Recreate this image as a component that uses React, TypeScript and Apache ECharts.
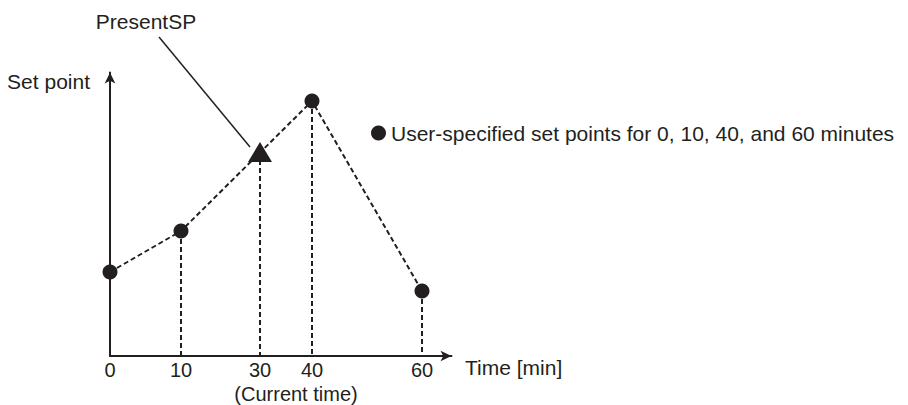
import React, { useEffect, useRef } from "react";
import * as echarts from "echarts";

// Schematic axis: positions along the time axis and the tick labels shown there
const axisPositions = [0, 71, 150, 202, 312];
const timeLabels = ["0", "10", "30", "40", "60"];

// User-specified set points (0, 10, 40, 60 minutes)
const setPointPositions = [0, 71, 202, 312];
const setPointValues = [84, 125, 255, 65];

// Present set point (current time = 30 min)
const presentPosition = [150];
const presentValue = [204];

const INK = "#231f20";
const FONT = "'Liberation Sans', Arial, Helvetica, sans-serif";
const LEGEND_NAME = "User-specified set points for 0, 10, 40, and 60 minutes";

export default function App() {
  const ref = useRef<HTMLDivElement>(null);

  useEffect(() => {
    if (!ref.current) return;
    const chart = echarts.init(ref.current, undefined, { renderer: "svg" });

    const dashed = { type: [5, 3] as any, width: 2, color: INK };
    const setData = setPointPositions.map((x, i) => [x, setPointValues[i]]);
    const presentData = presentPosition.map((x, i) => [x, presentValue[i]]);
    const dropLines = (data: number[][]) =>
      data.filter((d) => d[0] > 0).map((d) => [{ coord: [d[0], d[1]] }, { coord: [d[0], 0] }]);

    chart.setOption({
      animation: false,
      grid: { left: 110, right: 456.5, top: 72.5, bottom: 49 },
      legend: {
        data: [LEGEND_NAME],
        left: 366,
        top: 117.5,
        icon: "circle",
        itemWidth: 15,
        itemHeight: 15,
        selectedMode: false,
        textStyle: { fontSize: 21, color: INK, fontFamily: FONT },
      },
      xAxis: {
        type: "value",
        min: 0,
        max: 341.5,
        splitLine: { show: false },
        axisTick: { show: false },
        axisLine: {
          show: true,
          onZero: false,
          lineStyle: { color: INK, width: 2 },
          symbol: ["none", "arrow"],
          symbolSize: [8, 11],
        },
        axisLabel: {
          customValues: axisPositions,
          formatter: (v: number) => {
            const i = axisPositions.indexOf(v);
            return i >= 0 ? timeLabels[i] : "";
          },
          margin: 5.5,
          fontSize: 20,
          lineHeight: 17,
          color: INK,
          fontFamily: FONT,
        },
      },
      yAxis: {
        type: "value",
        min: 0,
        max: 283.5,
        splitLine: { show: false },
        axisTick: { show: false },
        axisLabel: { show: false },
        axisLine: {
          show: true,
          onZero: false,
          lineStyle: { color: INK, width: 2 },
          symbol: ["none", "arrow"],
          symbolSize: [8, 11],
        },
      },
      series: [
        {
          name: LEGEND_NAME,
          type: "line",
          data: setData,
          symbol: "circle",
          symbolSize: 15,
          showSymbol: true,
          itemStyle: { color: INK, opacity: 1 },
          lineStyle: dashed,
          z: 3,
          markLine: {
            silent: true,
            symbol: ["none", "none"],
            label: { show: false },
            lineStyle: dashed,
            data: dropLines(setData),
          },
        },
        {
          name: "PresentSP",
          type: "scatter",
          data: presentData,
          symbol: "triangle",
          symbolSize: [24, 20],
          itemStyle: { color: INK, opacity: 1 },
          z: 4,
          markLine: {
            silent: true,
            symbol: ["none", "none"],
            label: { show: false },
            lineStyle: dashed,
            data: dropLines(presentData),
          },
        },
      ],
      graphic: [
        {
          type: "line",
          shape: { x1: 159, y1: 37, x2: 250, y2: 147 },
          style: { stroke: INK, lineWidth: 1.5 },
        },
        {
          type: "text",
          x: 146,
          y: 21,
          style: { text: "PresentSP", fontSize: 21, fill: INK, fontFamily: FONT, align: "center", verticalAlign: "middle" },
        },
        {
          type: "text",
          x: 90,
          y: 81,
          style: { text: "Set point", fontSize: 21, fill: INK, fontFamily: FONT, align: "right", verticalAlign: "middle" },
        },
        {
          type: "text",
          x: 465,
          y: 367.5,
          style: { text: "Time [min]", fontSize: 21, fill: INK, fontFamily: FONT, align: "left", verticalAlign: "middle" },
        },
        {
          type: "text",
          x: 296,
          y: 393.5,
          style: {
            text: "(Current time)",
            fontSize: 20,
            fill: INK,
            fontFamily: FONT,
            align: "center",
            verticalAlign: "middle",
          },
        },
      ],
    });

    return () => chart.dispose();
  }, []);

  return (
    <div
      ref={ref}
      style={{ position: "fixed", left: 0, top: 0, width: 908, height: 405, background: "#fff" }}
    />
  );
}
